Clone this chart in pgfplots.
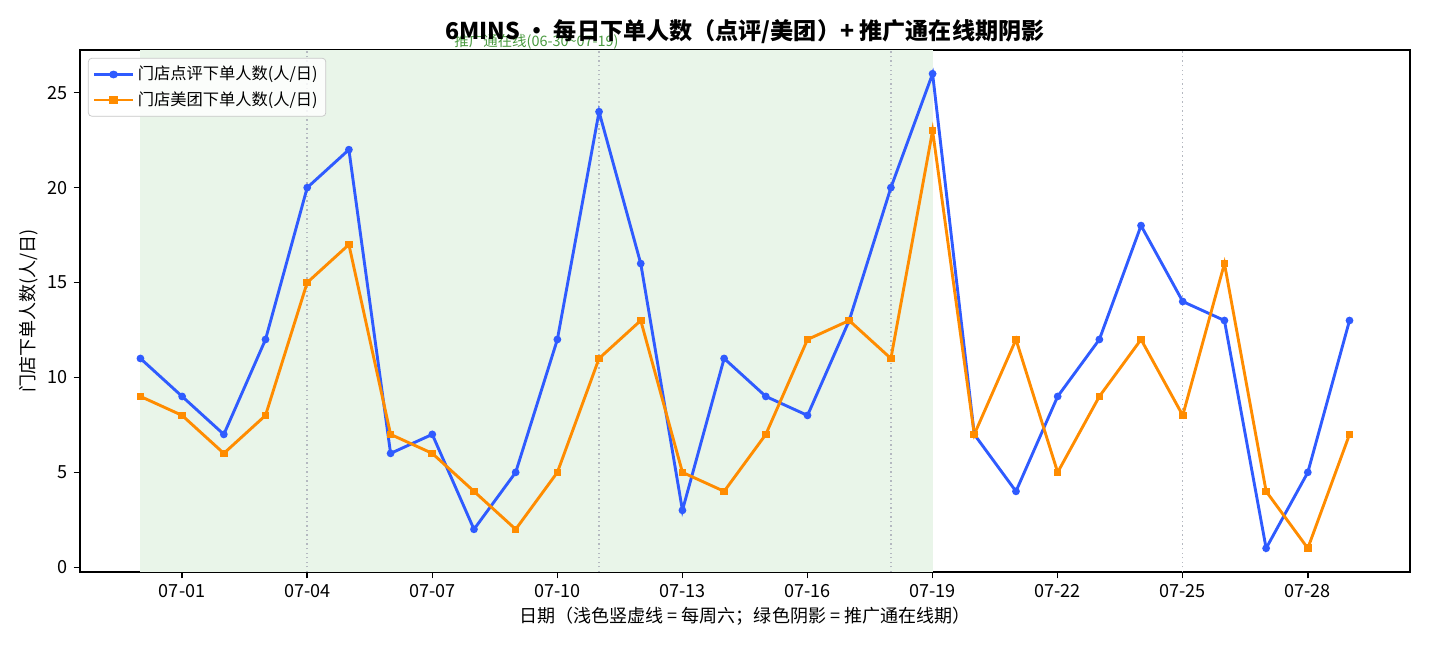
\documentclass[border=0pt]{standalone}
\usepackage{pgfplots}
\pgfplotsset{compat=1.18}
\usepackage{fontspec}
\setmainfont{Noto Sans CJK SC}
\setsansfont{Noto Sans CJK SC}
\definecolor{dpblue}{HTML}{2F5BFF}
\definecolor{mtorange}{HTML}{FF8C00}
\definecolor{shadegreen}{HTML}{E9F5E9}
\definecolor{satgray}{HTML}{B4B8C0}
\definecolor{anngreen}{HTML}{4A9A40}
\begin{document}
\begin{tikzpicture}
\useasboundingbox (0,0) rectangle (792pt,360pt);
\begin{axis}[
  at={(44.3pt,43.2pt)}, anchor=south west,
  scale only axis, width=736.6pt, height=289.1pt,
  xmin=-1.45, xmax=30.45, ymin=-0.25, ymax=27.25,
  xtick={1,4,7,10,13,16,19,22,25,28},
  xticklabels={07-01,07-04,07-07,07-10,07-13,07-16,07-19,07-22,07-25,07-28},
  ytick={0,5,10,15,20,25},
  tick align=outside, tick pos=left,
  major tick length=3.5pt,
  tick style={black, line width=0.8pt},
  axis line style={line width=0.8pt},
  /pgf/number format/assume math mode=true,
  ticklabel style={font=\fontsize{10}{12}\selectfont},
  xlabel={日期（浅色竖虚线 = 每周六；绿色阴影 = 推广通在线期）},
  ylabel={门店下单人数(人/日)},
  label style={font=\fontsize{10}{12}\selectfont},
  xlabel style={yshift=2pt},
  ylabel style={yshift=-2pt},
  title={\textbf{6MINS · 每日下单人数（点评/美团）+ 推广通在线期阴影}},
  title style={font=\fontsize{12.8}{14}\selectfont, yshift=-6pt},
  legend style={font=\fontsize{9}{11}\selectfont, draw=black!22, rounded corners=2pt,
    fill=white, fill opacity=0.85, text opacity=1, inner sep=2.5pt, row sep=1pt,
    at={(0.006,0.985)}, anchor=north west},
  legend image post style={xscale=1.25},
  legend cell align=left,
  clip=false,
]
\fill[shadegreen] (axis cs:0,-0.25) rectangle (axis cs:19,27.25);
\foreach \s in {4,11,18,25}{
  \edef\tmp{\noexpand\draw[satgray, line width=0.8pt, dash pattern=on 0.8pt off 1.7pt] (axis cs:\s,-0.25) -- (axis cs:\s,27.25);}
  \tmp
}
\node[anngreen, font=\fontsize{8}{9}\selectfont, anchor=base] at (axis cs:9.5,27.45) {推广通在线(06-30\textasciitilde 07-19)};
\addplot[dpblue, line width=1.6pt, mark=*, mark size=1.3pt] coordinates {
(0,11)(1,9)(2,7)(3,12)(4,20)(5,22)(6,6)(7,7)(8,2)(9,5)(10,12)(11,24)(12,16)(13,3)(14,11)(15,9)(16,8)(17,13)(18,20)(19,26)(20,7)(21,4)(22,9)(23,12)(24,18)(25,14)(26,13)(27,1)(28,5)(29,13)};
\addlegendentry{门店点评下单人数(人/日)}
\addplot[mtorange, line width=1.6pt, mark=square*, mark size=1.3pt] coordinates {
(0,9)(1,8)(2,6)(3,8)(4,15)(5,17)(6,7)(7,6)(8,4)(9,2)(10,5)(11,11)(12,13)(13,5)(14,4)(15,7)(16,12)(17,13)(18,11)(19,23)(20,7)(21,12)(22,5)(23,9)(24,12)(25,8)(26,16)(27,4)(28,1)(29,7)};
\addlegendentry{门店美团下单人数(人/日)}
\end{axis}
\end{tikzpicture}
\end{document}
